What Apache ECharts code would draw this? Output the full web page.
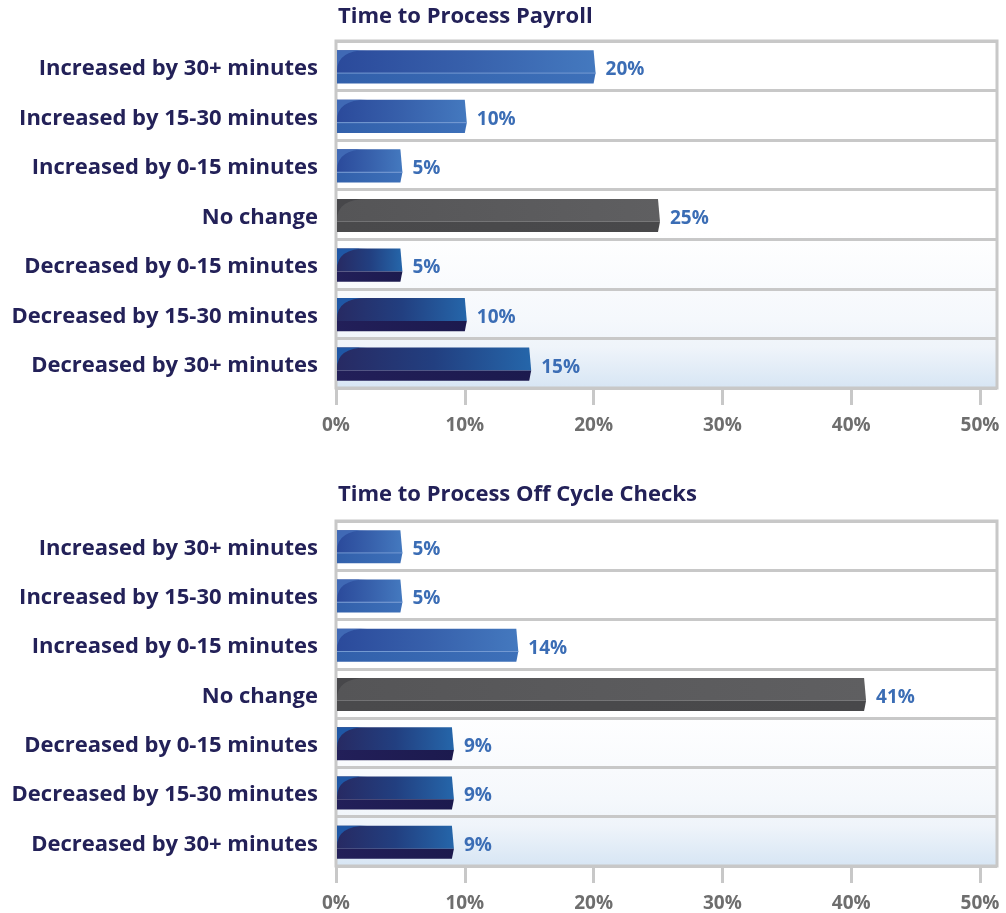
<!DOCTYPE html>
<html>
<head>
<meta charset="utf-8">
<script src="https://cdn.jsdelivr.net/npm/echarts@6/dist/echarts.min.js"></script>
<style>
  html, body { margin: 0; padding: 0; background: #ffffff; }
  #chart { width: 1006px; height: 913px; }
</style>
</head>
<body>
<div id="chart"></div>
<script>
// Survey answers, listed top to bottom
const categories = [
  'Increased by 30+ minutes',
  'Increased by 15-30 minutes',
  'Increased by 0-15 minutes',
  'No change',
  'Decreased by 0-15 minutes',
  'Decreased by 15-30 minutes',
  'Decreased by 30+ minutes'
];
// Bar colour family per answer
const kinds = ['up', 'up', 'up', 'flat', 'down', 'down', 'down'];
// Share of respondents (%)
const payrollValues = [20, 10, 5, 25, 5, 10, 15];
const offCycleValues = [5, 5, 14, 41, 9, 9, 9];
const tickValues = [0, 10, 20, 30, 40, 50];
const panelTitles = ['Time to Process Payroll', 'Time to Process Off Cycle Checks'];

const FONT = '"Open Sans", "Noto Sans", sans-serif';
const NAVY = '#232158';
const LINE = '#c8c8c8';

const palettes = {
  up: {
    top: ['#2b4a9b', '#3760ab', '#4479bf'],
    corner: '#4069b5',
    bottom: ['#3260ab', '#3d70b9'],
    edge: '#7499d2'
  },
  down: {
    top: ['#272a63', '#223f80', '#2566aa'],
    corner: '#1f57a5',
    bottom: ['#221f59', '#1c1a4e'],
    edge: null
  },
  flat: {
    top: ['#555557', '#5a5a5c', '#5f5f61'],
    corner: '#47474a',
    bottom: ['#4a4a4c', '#48484a'],
    edge: null
  }
};

function hGrad(cols) {
  const stops = cols.map((c, i) => ({ offset: i / (cols.length - 1), color: c }));
  return new echarts.graphic.LinearGradient(0, 0, 1, 0, stops);
}

// Bevelled bar: bright upper face, darker lower lip, rounded highlight on the left
function renderBar(params, api) {
  const v = api.value(0);
  const idx = api.value(1);
  const p0 = api.coord([0, idx]);
  const p1 = api.coord([v, idx]);
  const band = api.size([0, 1])[1];
  const h = band * 0.67;
  const x0 = p0[0] + 1;
  const x1 = p1[0];
  const top = p0[1] - h / 2 + 1;
  const split = top + h * 0.69;
  const bot = top + h;
  const pal = palettes[kinds[idx]];
  const R = Math.min(30, (x1 - x0) * 0.5);
  const children = [
    {
      type: 'polygon',
      shape: { points: [[x0, top], [x1, top], [x1 + 2, split], [x0, split]] },
      style: { fill: hGrad(pal.top) }
    },
    {
      type: 'path',
      shape: {
        pathData: 'M' + x0 + ',' + top + ' L' + (x0 + R) + ',' + top +
          ' Q' + x0 + ',' + top + ' ' + x0 + ',' + (split - 2) + ' Z'
      },
      style: { fill: pal.corner }
    },
    {
      type: 'polygon',
      shape: { points: [[x0, split], [x1 + 2, split], [x1, bot], [x0, bot]] },
      style: { fill: hGrad(pal.bottom) }
    }
  ];
  if (pal.edge) {
    children.push({
      type: 'line',
      shape: { x1: x0, y1: split, x2: x1 + 2, y2: split },
      style: { stroke: pal.edge, lineWidth: 1 }
    });
  }
  children.push({
    type: 'text',
    style: {
      text: v + '%',
      x: x1 + 12,
      y: (top + bot) / 2 + 3,
      fill: '#3b6db5',
      fontSize: 19,
      fontWeight: 'bold',
      fontFamily: FONT,
      align: 'left',
      verticalAlign: 'middle'
    }
  });
  return { type: 'group', children: children };
}

const plotBg = new echarts.graphic.LinearGradient(0, 0, 0, 1, [
  { offset: 0, color: '#ffffff' },
  { offset: 0.55, color: '#ffffff' },
  { offset: 0.8, color: '#f5f8fc' },
  { offset: 0.88, color: '#eff4fa' },
  { offset: 1, color: '#d6e5f4' }
]);

// 50% sits 644px from the left edge; the frame runs a little past it
const pxPerPct = 644 / 50;
const plotWidth = 661;
const axisMax = plotWidth / pxPerPct;

const panels = [
  { top: 41, height: 347, titleTop: 1, values: payrollValues },
  { top: 521, height: 346, titleTop: 479, values: offCycleValues }
];

const option = {
  animation: false,
  backgroundColor: '#ffffff',
  title: panels.map((p, i) => ({
    text: panelTitles[i],
    left: 333,
    top: p.titleTop,
    textStyle: { color: NAVY, fontSize: 22, fontWeight: 'bold', fontFamily: FONT }
  })),
  grid: panels.map(p => ({
    left: 336,
    top: p.top,
    width: plotWidth,
    height: p.height,
    show: true,
    backgroundColor: plotBg,
    borderColor: LINE,
    borderWidth: 3
  })),
  xAxis: panels.map((p, i) => ({
    type: 'value',
    gridIndex: i,
    min: 0,
    max: axisMax,
    axisLine: { show: false },
    splitLine: { show: false },
    axisTick: {
      show: true,
      customValues: tickValues,
      length: 17,
      lineStyle: { color: LINE, width: 3 }
    },
    axisLabel: {
      customValues: tickValues,
      formatter: v => v + '%',
      margin: 28,
      color: '#6e6e6e',
      fontSize: 19,
      fontWeight: 'bold',
      fontFamily: FONT
    }
  })),
  yAxis: panels.map((p, i) => ({
    type: 'category',
    gridIndex: i,
    data: categories,
    inverse: true,
    axisLine: { show: false },
    axisTick: { show: false },
    splitLine: { show: true, interval: 0, lineStyle: { color: LINE, width: 3 } },
    axisLabel: {
      interval: 0,
      margin: 18,
      verticalAlign: 'top',
      lineHeight: 6,
      color: NAVY,
      fontSize: 22,
      fontWeight: 'bold',
      fontFamily: FONT
    }
  })),
  series: panels.map((p, i) => ({
    type: 'custom',
    xAxisIndex: i,
    yAxisIndex: i,
    renderItem: renderBar,
    encode: { x: 0, y: 1 },
    data: p.values.map((v, k) => [v, k]),
    clip: false
  }))
};

const chart = echarts.init(document.getElementById('chart'), null, { renderer: 'canvas' });
chart.setOption(option);
</script>
</body>
</html>
